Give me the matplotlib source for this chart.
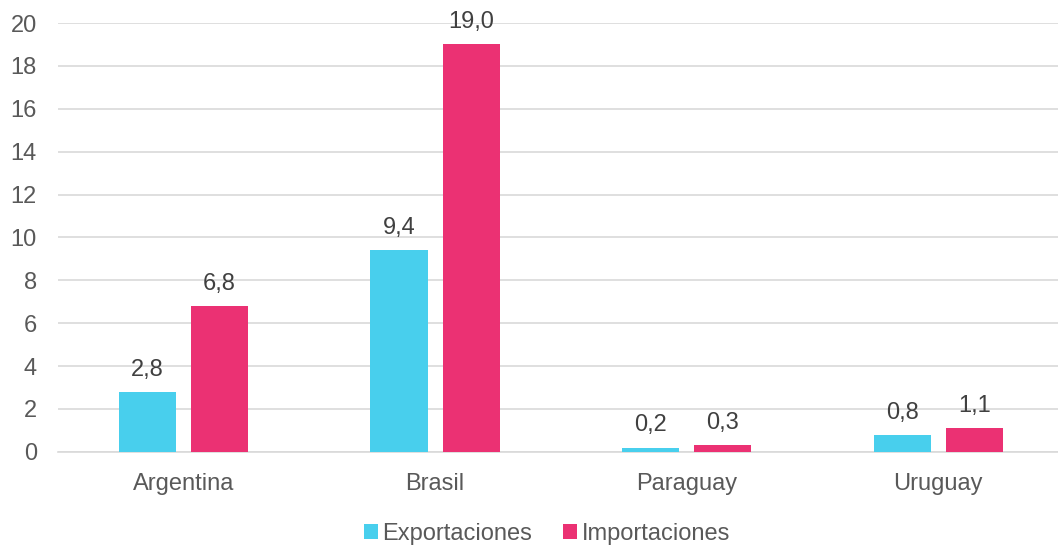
import matplotlib.pyplot as plt
import numpy as np

plt.rcParams["font.family"] = ["Liberation Sans", "DejaVu Sans"]

paises = ["Argentina", "Brasil", "Paraguay", "Uruguay"]
exportaciones = [2.8, 9.4, 0.2, 0.8]
importaciones = [6.8, 19.0, 0.3, 1.1]

fig = plt.figure(figsize=(10.58, 5.49), dpi=100)
ax = fig.add_axes([0.0546, 0.177, 0.951, 0.781])

x = np.arange(len(paises))
w = 0.227
gap = 0.06
fs = 17
b1 = ax.bar(x - (w + gap) / 2, exportaciones, w, color="#48CFED", label="Exportaciones", zorder=3)
b2 = ax.bar(x + (w + gap) / 2, importaciones, w, color="#EB3173", label="Importaciones", zorder=3)

# etiquetas de datos con coma decimal
for bars, vals in ((b1, exportaciones), (b2, importaciones)):
    for b, v in zip(bars, vals):
        ax.annotate(f"{v:.1f}".replace(".", ","), (b.get_x() + b.get_width() / 2, v),
                    xytext=(0, 8), textcoords="offset points", ha="center", va="bottom",
                    fontsize=fs, color="#404040")

ax.set_xlim(-0.5, len(paises) - 0.5)
ax.set_ylim(0, 20)
ax.set_yticks(range(0, 21, 2))
ax.set_xticks(x)
ax.set_xticklabels(paises)
ax.yaxis.grid(True, color="#D9D9D9", linewidth=1.2, zorder=0)
ax.tick_params(axis="both", length=0, labelsize=fs, labelcolor="#595959")
ax.tick_params(axis="y", pad=15)
ax.tick_params(axis="x", pad=15)
for s in ["top", "right", "left"]:
    ax.spines[s].set_visible(False)
ax.spines["bottom"].set_color("#D9D9D9")
ax.spines["bottom"].set_linewidth(1.2)

leg = fig.legend(loc="center", bbox_to_anchor=(0.517, 0.027), ncol=2, frameon=False,
                 fontsize=fs, handlelength=0.6, handleheight=0.6, handletextpad=0.2,
                 columnspacing=1.3)
for t in leg.get_texts():
    t.set_color("#595959")

fig.savefig("out.png", dpi=100)
